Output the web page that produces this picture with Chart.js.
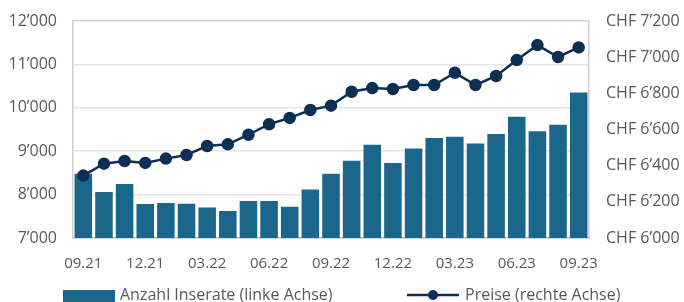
<!DOCTYPE html>
<html>
<head>
<meta charset="utf-8">
<script src="https://cdn.jsdelivr.net/npm/chart.js@4.4.0/dist/chart.umd.min.js"></script>
<style>
  html, body { margin: 0; padding: 0; background: #ffffff; }
  #wrap { width: 684px; height: 302px; position: relative; }
</style>
</head>
<body>
<div id="wrap"><canvas id="c" width="684" height="302"></canvas></div>
<script>
const months = ['09.21','10.21','11.21','12.21','01.22','02.22','03.22','04.22','05.22','06.22','07.22','08.22','09.22','10.22','11.22','12.22','01.23','02.23','03.23','04.23','05.23','06.23','07.23','08.23','09.23'];
const listings = [8480, 8060, 8245, 7785, 7805, 7790, 7700, 7620, 7850, 7850, 7720, 8120, 8480, 8780, 9150, 8730, 9065, 9305, 9335, 9175, 9395, 9795, 9460, 9610, 10355];
const prices = [6345, 6411, 6426, 6415, 6439, 6459, 6509, 6518, 6571, 6629, 6664, 6708, 6732, 6809, 6829, 6824, 6846, 6846, 6914, 6846, 6896, 6984, 7067, 7001, 7054];
const leftTicks = [7000, 8000, 9000, 10000, 11000, 12000];
const rightTicks = [6000, 6200, 6400, 6600, 6800, 7000, 7200];
const seriesNames = ['Anzahl Inserate (linke Achse)', 'Preise (rechte Achse)'];

const BAR = '#1b678b';
const LINE = '#0c2f56';
const TXT = '#595959';
const FONT = "'Open Sans', 'Noto Sans', sans-serif";

function fmt(v) { return String(v).replace(/\B(?=(\d{3})+(?!\d))/g, '\u2019'); }

const legendPlugin = {
  id: 'customLegend',
  afterDraw(chart) {
    const ctx = chart.ctx;
    const bar = chart.data.datasets.find(d => d.type === 'bar');
    const line = chart.data.datasets.find(d => d.type === 'line');
    const y = 295;
    ctx.save();
    ctx.font = "16px " + FONT;
    ctx.textBaseline = 'middle';
    ctx.fillStyle = bar.backgroundColor;
    ctx.fillRect(63, 290, 52, 12);
    ctx.fillStyle = TXT;
    ctx.fillText(bar.label, 120, y);
    ctx.strokeStyle = line.borderColor;
    ctx.lineWidth = 2.5;
    ctx.beginPath(); ctx.moveTo(407, y); ctx.lineTo(459, y); ctx.stroke();
    ctx.fillStyle = line.pointBackgroundColor;
    ctx.beginPath(); ctx.arc(433, y, 5, 0, Math.PI * 2); ctx.fill();
    ctx.fillStyle = TXT;
    ctx.fillText(line.label, 465, y);
    ctx.restore();
  }
};

new Chart(document.getElementById('c'), {
  data: {
    labels: months,
    datasets: [
      {
        type: 'line',
        label: seriesNames[1],
        data: prices,
        yAxisID: 'y1',
        borderColor: LINE,
        backgroundColor: LINE,
        pointBackgroundColor: LINE,
        pointBorderColor: LINE,
        borderWidth: 2.5,
        pointRadius: 5,
        tension: 0,
        order: 0
      },
      {
        type: 'bar',
        label: seriesNames[0],
        data: listings,
        yAxisID: 'y',
        backgroundColor: BAR,
        borderWidth: 0,
        barPercentage: 0.85,
        categoryPercentage: 1.0,
        order: 1
      }
    ]
  },
  options: {
    responsive: false,
    animation: false,
    devicePixelRatio: 1,
    layout: { padding: { top: 21, bottom: 28, left: 0, right: 0 } },
    plugins: { legend: { display: false }, tooltip: { enabled: false } },
    scales: {
      x: {
        offset: true,
        grid: { display: false, drawTicks: false },
        border: { display: true, color: '#c0c0c0', width: 1.5 },
        ticks: {
          autoSkip: false,
          maxRotation: 0,
          padding: 17,
          color: TXT,
          font: { family: FONT, size: 15 },
          callback: function(v, i) { return i % 3 === 0 ? months[i] : ''; }
        },
        afterFit(s) { s.height = 36; s.paddingLeft = 0; s.paddingRight = 0; }
      },
      y: {
        position: 'left',
        min: leftTicks[0],
        max: leftTicks[leftTicks.length - 1],
        afterBuildTicks(s) { s.ticks = leftTicks.map(v => ({ value: v })); },
        grid: {
          drawTicks: false,
          color: (c) => (c.tick && c.tick.value === 12000) ? '#cfcfcf' : '#e6e6e6',
          lineWidth: 1.5
        },
        border: { display: true, color: '#cfcfcf', width: 1.5 },
        ticks: { padding: 16, color: TXT, font: { family: FONT, size: 16 }, callback: (v) => fmt(v) },
        afterFit(s) { s.width = 73; s.paddingTop = 0; s.paddingBottom = 0; }
      },
      y1: {
        position: 'right',
        min: rightTicks[0],
        max: rightTicks[rightTicks.length - 1],
        afterBuildTicks(s) { s.ticks = rightTicks.map(v => ({ value: v })); },
        grid: { display: false, drawTicks: false },
        border: { display: true, color: '#cfcfcf', width: 1.5 },
        ticks: { padding: 17, color: TXT, font: { family: FONT, size: 16 }, callback: (v) => 'CHF ' + fmt(v) },
        afterFit(s) { s.width = 95; s.paddingTop = 0; s.paddingBottom = 0; }
      }
    }
  },
  plugins: [legendPlugin]
});
</script>
</body>
</html>
